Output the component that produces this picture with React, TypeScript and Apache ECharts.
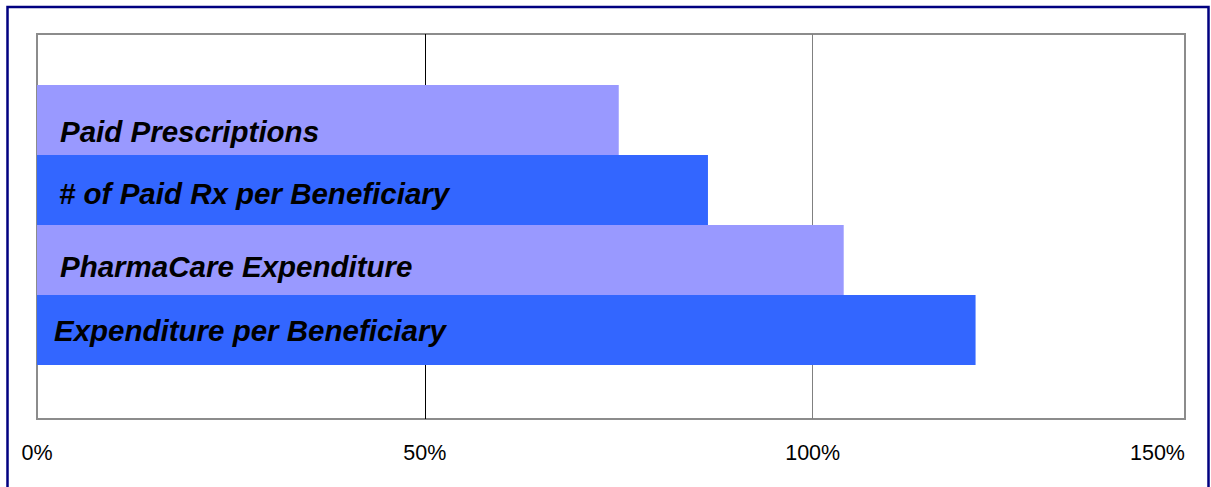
import React, { useEffect, useRef } from "react";
import * as echarts from "echarts";

const categories = [
  "Paid Prescriptions",
  "# of Paid Rx per Beneficiary",
  "PharmaCare Expenditure",
  "Expenditure per Beneficiary",
];
const values = [75, 86.5, 104, 121];
const tickLabels = ["0%", "50%", "100%", "150%"];
const axisMax = 148;

const barColors = ["#9999FF", "#3366FF", "#9999FF", "#3366FF"];
const labelOffsets = [
  [23, 11],
  [22, 3],
  [23, 6.5],
  [17, 0],
];

export default function App() {
  const ref = useRef<HTMLDivElement>(null);

  useEffect(() => {
    if (!ref.current) return;
    const chart = echarts.init(ref.current, null, { renderer: "svg" });
    const font = "'Liberation Sans', Arial, sans-serif";
    chart.setOption({
      animation: false,
      backgroundColor: "#ffffff",
      graphic: [
        {
          type: "rect",
          silent: true,
          z: 100,
          shape: { x: 7.5, y: 7, width: 1201, height: 495 },
          style: { fill: "none", stroke: "#000080", lineWidth: 2.5 },
        },
      ],
      grid: [
        {
          left: 37,
          right: 26,
          top: 34,
          bottom: 68,
          show: true,
          borderColor: "#8c8c8c",
          borderWidth: 2,
          backgroundColor: "transparent",
        },
        {
          left: 37,
          right: 26,
          top: 85,
          height: 280,
        },
      ],
      xAxis: [
        {
          gridIndex: 0,
          type: "value",
          min: 0,
          max: axisMax,
          interval: 50,
          axisLine: { show: false },
          axisTick: { show: false },
          axisLabel: {
            formatter: (_v: number, i: number) => tickLabels[i] ?? "",
            color: "#000",
            fontSize: 21.5,
            fontFamily: font,
            margin: 23,
            showMaxLabel: true,
            alignMaxLabel: "right",
          },
          splitLine: {
            show: true,
            lineStyle: {
              color: ["#8c8c8c", "#000000", "#808080", "#8c8c8c"],
              width: 1,
            },
          },
        },
        {
          gridIndex: 1,
          type: "value",
          min: 0,
          max: axisMax,
          show: false,
          splitLine: { show: false },
        },
      ],
      yAxis: [
        { gridIndex: 0, type: "value", show: false, splitLine: { show: false } },
        {
          gridIndex: 1,
          type: "category",
          data: categories,
          inverse: true,
          show: false,
        },
      ],
      series: [
        {
          type: "bar",
          xAxisIndex: 1,
          yAxisIndex: 1,
          barCategoryGap: "0%",
          data: values.map((v, i) => ({
            value: v,
            itemStyle: { color: barColors[i] },
            label: { offset: labelOffsets[i] },
          })),
          label: {
            show: true,
            position: "insideLeft",
            distance: 0,
            formatter: "{b}",
            color: "#000",
            fontSize: 29.5,
            fontWeight: "bold",
            fontStyle: "italic",
            fontFamily: font,
          },
        },
      ],
    });
    return () => chart.dispose();
  }, []);

  return (
    <div
      ref={ref}
      style={{ position: "absolute", left: 0, top: 0, width: 1211, height: 487 }}
    />
  );
}
